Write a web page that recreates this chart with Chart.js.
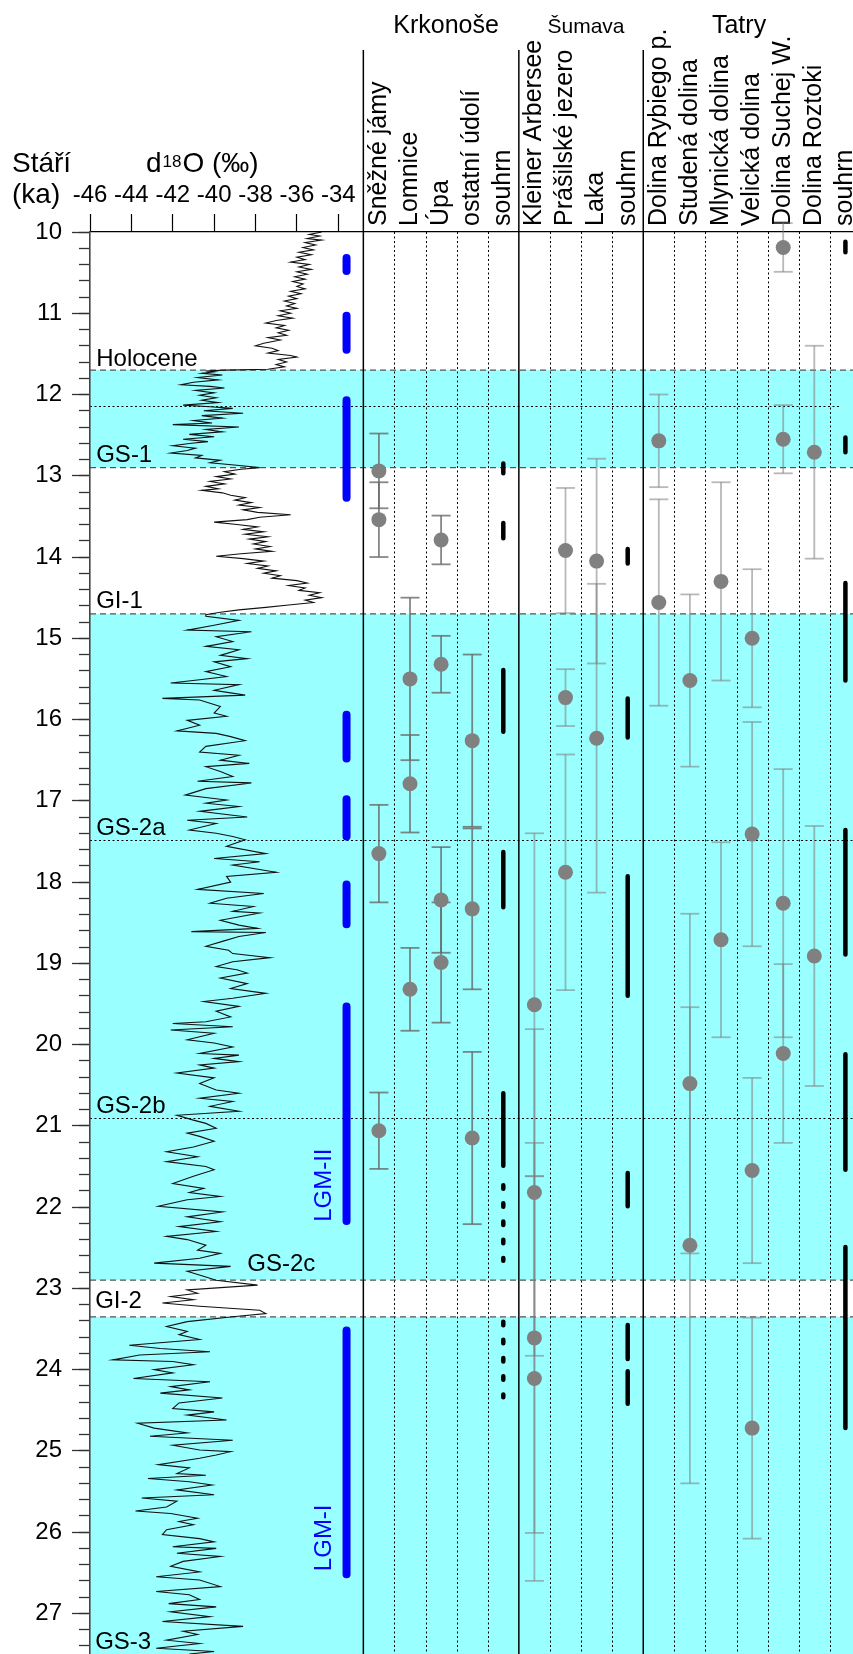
<!DOCTYPE html>
<html>
<head>
<meta charset="utf-8">
<script src="https://cdn.jsdelivr.net/npm/chart.js@4.4.1/dist/chart.umd.min.js"></script>
<style>
html,body{margin:0;padding:0;background:#fff;}
#wrap{width:853px;height:1654px;}
canvas{display:block;}
</style>
</head>
<body>
<div id="wrap"><canvas id="chart" width="853" height="1654"></canvas></div>
<script>
// ================= DATA =================
const columnNames = ['Sněžné jámy','Lomnice','Úpa','ostatní údolí','souhrn',
  'Kleiner Arbersee','Prášilské jezero','Laka','souhrn',
  'Dolina Rybiego p.','Studená dolina','Mlynická dolina','Velická dolina','Dolina Suchej W.','Dolina Roztoki','souhrn'];
const groupNames = ['Krkonoše','Šumava','Tatry'];
const groupSizes = [5, 4, 7];
const d18OTicks = [-46,-44,-42,-40,-38,-36,-34];
const ageTicks = [10,11,12,13,14,15,16,17,18,19,20,21,22,23,24,25,26,27];

// dated samples per site: [age ka, ± uncertainty ka]
const snezneJamy      = [[12.94,0.46],[13.54,0.46],[17.65,0.60],[21.06,0.47]];
const lomnice         = [[15.50,1.00],[16.79,0.60],[19.32,0.51]];
const upa             = [[13.79,0.30],[15.32,0.35],[18.22,0.65],[18.99,0.74]];
const ostatniUdoli    = [[16.26,1.06],[18.33,0.99],[21.15,1.06]];
const kleinerArbersee = [[19.51,2.11],[21.82,2.01],[23.61,2.40],[24.11,2.49]];
const prasilskeJezero = [[13.92,0.77],[15.73,0.35],[17.88,1.45]];
const laka            = [[14.05,1.26],[16.23,1.90]];
const dolinaRybiego   = [[12.57,0.57],[14.56,1.27]];
const studenaDolina   = [[15.52,1.06],[20.48,2.09],[22.47,2.93]];
const mlynickaDolina  = [[14.30,1.22],[18.71,1.20]];
const velickaDolina   = [[15.00,0.85],[17.41,1.38],[21.55,1.14],[24.72,1.36]];
const dolinaSuchej    = [[10.19,0.30],[12.55,0.42],[18.26,1.65],[20.11,1.10]];
const dolinaRoztoki   = [[12.71,1.31],[18.91,1.60]];

// summary (souhrn) intervals [from ka, to ka]
const krkonoseSouhrn       = [[12.85,12.97],[13.58,13.77],[15.39,16.15],[17.63,18.31],[20.60,21.49]];
const krkonoseSouhrnDotted = [[21.73,22.66],[23.41,24.34]];
const sumavaSouhrn         = [[13.90,14.08],[15.74,16.22],[17.93,19.40],[21.58,21.99],[23.45,23.87],[24.02,24.42]];
const tatrySouhrn          = [[10.12,10.25],[12.53,12.71],[14.32,15.52],[17.36,18.89],[20.12,21.54],[22.49,24.72]];

// LGM intervals (blue) [from ka, to ka]
const lgmIntervals = [[10.32,10.48],[11.03,11.45],[12.07,13.27],[15.94,16.48],[16.98,17.44],[18.03,18.52],[19.53,22.17],[23.52,26.52]];
const lgmNames = ['LGM-II','LGM-I'];

// Greenland stadials (cyan) and event boundaries [ka]
const stadialBands = [[11.7,12.9],[14.7,22.9],[23.35,27.5]];
const dashedBoundaries = [11.7,12.9,14.7,22.9,23.35];
const dottedBoundaries = [12.14,17.48,20.9];
const periodNames = ['Holocene','GS-1','GI-1','GS-2a','GS-2b','GS-2c','GI-2','GS-3'];

// NGRIP d18O record [age ka, d18O permil]
const curveHolocene = [[10.00,-34.8],[10.03,-35.4],[10.05,-34.9],[10.08,-35.5],[10.10,-34.8],[10.13,-35.6],[10.16,-35.1],[10.19,-35.7],[10.22,-35.2],[10.25,-35.9],[10.28,-35.3],[10.31,-36.0],[10.34,-35.6],[10.37,-36.3],[10.40,-35.4],[10.43,-35.9],[10.46,-35.3],[10.49,-36.0],[10.52,-35.5],[10.55,-36.1],[10.58,-35.6],[10.61,-36.2],[10.64,-35.7],[10.67,-36.0],[10.70,-35.6],[10.73,-36.3],[10.76,-35.8],[10.79,-36.4],[10.82,-36.0],[10.85,-36.6],[10.88,-36.1],[10.91,-36.5],[10.94,-36.0],[10.97,-36.8],[11.00,-36.3],[11.03,-36.9],[11.06,-36.2],[11.09,-37.0],[11.12,-37.5],[11.15,-36.6],[11.18,-37.0],[11.21,-36.4],[11.24,-36.9],[11.27,-36.5],[11.30,-37.4],[11.33,-36.8],[11.37,-37.6],[11.40,-38.0],[11.43,-37.2],[11.46,-36.9],[11.49,-37.4],[11.52,-36.3],[11.54,-36.0],[11.57,-36.9],[11.60,-36.5],[11.63,-37.0],[11.66,-36.6],[11.69,-37.4],[11.70,-39.5]];
const curveGS1 = [[11.71,-40.4],[11.72,-40.0],[11.74,-40.6],[11.76,-39.6],[11.79,-40.8],[11.82,-39.8],[11.85,-41.0],[11.88,-41.6],[11.90,-40.2],[11.92,-39.5],[11.95,-40.9],[11.98,-40.0],[12.01,-40.7],[12.04,-39.9],[12.07,-40.6],[12.10,-39.8],[12.13,-41.5],[12.15,-40.2],[12.17,-39.1],[12.20,-40.5],[12.23,-38.6],[12.26,-40.6],[12.29,-39.6],[12.32,-41.0],[12.35,-40.1],[12.37,-42.0],[12.40,-38.8],[12.43,-40.4],[12.46,-39.6],[12.49,-41.2],[12.52,-40.0],[12.55,-41.5],[12.58,-40.3],[12.60,-41.1],[12.63,-42.0],[12.66,-40.9],[12.69,-41.3],[12.72,-42.1],[12.75,-40.6],[12.78,-40.9],[12.81,-39.7],[12.84,-40.2],[12.87,-38.9],[12.90,-37.8],[12.92,-38.7]];
const curveGI1 = [[12.95,-39.5],[12.98,-39.0],[13.01,-39.9],[13.04,-39.2],[13.07,-40.2],[13.10,-39.5],[13.13,-40.4],[13.16,-39.8],[13.18,-40.6],[13.21,-39.6],[13.24,-39.2],[13.27,-38.5],[13.30,-39.0],[13.33,-38.2],[13.36,-38.8],[13.39,-37.8],[13.42,-38.6],[13.45,-37.9],[13.48,-36.3],[13.51,-37.8],[13.54,-38.4],[13.57,-40.0],[13.60,-38.9],[13.63,-37.9],[13.66,-38.6],[13.69,-37.6],[13.72,-38.5],[13.75,-37.4],[13.78,-38.3],[13.81,-37.5],[13.84,-38.1],[13.87,-37.3],[13.90,-38.0],[13.93,-37.2],[13.96,-38.7],[13.99,-39.9],[14.02,-38.6],[14.05,-37.6],[14.08,-38.4],[14.11,-37.4],[14.14,-37.9],[14.17,-37.0],[14.20,-37.6],[14.23,-36.8],[14.26,-37.2],[14.29,-36.0],[14.32,-35.5],[14.35,-36.4],[14.38,-35.6],[14.41,-35.9],[14.44,-34.9],[14.47,-35.4],[14.50,-34.8],[14.53,-35.6],[14.56,-35.2],[14.59,-36.4],[14.62,-37.5],[14.65,-38.8],[14.68,-39.7],[14.71,-40.4]];
const curveGS2a = [[14.73,-40.4],[14.78,-38.8],[14.84,-40.0],[14.90,-41.3],[14.92,-38.2],[14.98,-39.9],[15.04,-39.1],[15.10,-40.4],[15.14,-38.8],[15.21,-39.7],[15.25,-38.4],[15.29,-40.0],[15.35,-39.2],[15.41,-40.4],[15.47,-39.4],[15.51,-40.7],[15.55,-42.1],[15.57,-38.8],[15.64,-40.0],[15.70,-38.5],[15.74,-42.5],[15.76,-40.7],[15.84,-39.7],[15.92,-40.0],[15.96,-39.4],[16.01,-41.3],[16.07,-40.7],[16.14,-41.8],[16.17,-39.9],[16.21,-39.2],[16.26,-38.5],[16.33,-40.4],[16.40,-40.7],[16.44,-38.8],[16.50,-39.7],[16.54,-38.3],[16.58,-40.4],[16.64,-39.7],[16.70,-39.1],[16.76,-40.8],[16.78,-38.2],[16.85,-40.4],[16.93,-41.4],[16.99,-39.4],[17.03,-40.4],[17.07,-38.8],[17.13,-40.7],[17.20,-38.4],[17.24,-41.3],[17.28,-39.9],[17.36,-41.2],[17.40,-39.9],[17.44,-39.1],[17.48,-38.5],[17.56,-39.4],[17.65,-37.5],[17.71,-40.0],[17.75,-37.8],[17.79,-39.1],[17.88,-37.0],[17.93,-39.4],[18.00,-39.2],[18.09,-40.8],[18.14,-37.6],[18.20,-39.4],[18.26,-40.2],[18.30,-38.1],[18.36,-39.1],[18.38,-37.8],[18.47,-39.7],[18.53,-38.8],[18.57,-37.9],[18.61,-41.1],[18.62,-37.5],[18.67,-38.8],[18.73,-39.6],[18.79,-40.4],[18.84,-39.3],[18.88,-39.1],[18.93,-37.3],[18.98,-39.1],[19.04,-39.9],[19.08,-38.9],[19.12,-38.4],[19.18,-39.7],[19.25,-38.4],[19.31,-39.2],[19.37,-37.5],[19.43,-39.1],[19.47,-40.5],[19.53,-38.8],[19.59,-39.9],[19.66,-39.2],[19.72,-40.4],[19.74,-42.0],[19.78,-39.1],[19.82,-42.1],[19.86,-40.0],[19.94,-41.3],[19.98,-40.0]];
const curveGS2bc = [[20.03,-39.1],[20.11,-40.7],[20.13,-38.8],[20.17,-40.0],[20.21,-38.8],[20.25,-40.7],[20.29,-40.0],[20.35,-41.8],[20.41,-40.0],[20.48,-40.7],[20.56,-39.9],[20.60,-38.8],[20.66,-40.7],[20.70,-39.1],[20.76,-40.2],[20.82,-38.8],[20.87,-41.8],[20.93,-41.0],[20.97,-40.4],[21.03,-39.9],[21.09,-41.3],[21.13,-40.7],[21.19,-40.0],[21.26,-41.0],[21.32,-42.3],[21.38,-40.8],[21.44,-42.3],[21.50,-40.4],[21.54,-40.0],[21.62,-41.0],[21.71,-42.0],[21.77,-40.5],[21.82,-41.2],[21.87,-39.7],[21.91,-41.3],[21.99,-42.7],[22.06,-39.6],[22.12,-41.3],[22.18,-39.7],[22.24,-41.7],[22.30,-39.9],[22.36,-42.3],[22.40,-41.3],[22.47,-40.4],[22.53,-40.8],[22.57,-39.7],[22.63,-40.7],[22.69,-42.9],[22.73,-39.2],[22.79,-41.3],[22.86,-40.4],[22.90,-39.9],[22.96,-37.9],[23.02,-41.3],[23.06,-40.8],[23.10,-42.1],[23.14,-41.0],[23.18,-42.5],[23.22,-40.7],[23.27,-37.8],[23.31,-37.5],[23.35,-39.1],[23.41,-41.3],[23.47,-42.3],[23.53,-41.3],[23.57,-41.7],[23.63,-40.7],[23.70,-44.1],[23.74,-42.6],[23.78,-40.2],[23.82,-43.6],[23.88,-44.9],[23.90,-42.0],[23.94,-41.0],[24.00,-42.9],[24.04,-42.0],[24.11,-43.9],[24.15,-40.2],[24.21,-42.1],[24.25,-41.2],[24.29,-42.6],[24.35,-39.6],[24.41,-41.7],[24.48,-42.0],[24.52,-40.0],[24.56,-41.3],[24.62,-39.4],[24.66,-43.7],[24.72,-42.9],[24.78,-41.3],[24.82,-43.1],[24.87,-39.1],[24.93,-42.0],[24.99,-40.7]];
const curveGS3 = [[25.01,-39.2],[25.05,-39.9],[25.09,-40.7],[25.17,-42.7],[25.21,-41.2],[25.28,-41.8],[25.30,-40.4],[25.34,-43.2],[25.38,-41.2],[25.42,-40.1],[25.48,-41.8],[25.54,-40.0],[25.58,-43.5],[25.62,-41.8],[25.69,-42.3],[25.74,-43.8],[25.77,-42.1],[25.83,-40.8],[25.87,-41.7],[25.91,-41.0],[25.97,-42.3],[26.03,-42.5],[26.08,-40.7],[26.12,-40.0],[26.18,-42.0],[26.20,-39.9],[26.26,-41.8],[26.30,-39.7],[26.36,-41.5],[26.42,-42.1],[26.49,-40.7],[26.55,-42.8],[26.59,-40.7],[26.67,-39.7],[26.73,-42.8],[26.77,-41.2],[26.83,-40.7],[26.88,-42.2],[26.92,-39.9],[26.98,-42.1],[27.04,-40.2],[27.10,-42.5],[27.16,-38.6],[27.22,-41.5],[27.26,-40.8],[27.33,-42.3],[27.37,-40.7],[27.43,-42.8],[27.47,-40.0],[27.50,-41.2]];

// ================= LAYOUT / STYLE (not data) =================
const FONT = "'Liberation Sans', Arial, Helvetica, sans-serif";
const AGE_MIN = 10, AGE_MAX = 27.5;
const X_MIN = -46, X_MAX = -9.12;
const COL_MIN = -9.289, COL_MAX = 15.244;
const LGM_X = -33.6;
const LGM_LABEL_X = -34.65;
const lgmLabelAt = [21.73, 26.07];
const periodLabelAt = [[-45.7,11.65],[-45.7,12.83],[-45.7,14.63],[-45.7,17.42],[-45.7,20.84],[-38.4,22.79],[-45.75,23.24],[-45.75,27.44]];
const groupTitleAt = [2.16, 6.66, 11.58];
const groupTitleSize = [25, 21, 25];
const dottedBoundaryEnd = [14.8, null, null];
const CYAN = '#99FFFF';
const BLUE = '#0000FF';

Chart.defaults.font.family = FONT;
Chart.defaults.color = '#000';

const siteDates = [snezneJamy, lomnice, upa, ostatniUdoli, null,
  kleinerArbersee, prasilskeJezero, laka, null,
  dolinaRybiego, studenaDolina, mlynickaDolina, velickaDolina, dolinaSuchej, dolinaRoztoki, null];
const summaryCols = columnNames.map((n, i) => n === 'souhrn' ? i : -1).filter(i => i >= 0);
const summarySeries = [krkonoseSouhrn, sumavaSouhrn, tatrySouhrn];

// ================= DATASETS =================
const datasets = [];

const pts = [];
siteDates.forEach((dates, col) => { if (dates) dates.forEach(([a]) => pts.push({x: col, y: a})); });
datasets.push({type: 'scatter', data: pts, xAxisID: 'x2', yAxisID: 'y', order: 0,
  pointRadius: 7.5, pointBackgroundColor: '#808080', pointBorderWidth: 0, clip: false});

summarySeries.forEach((ranges, gi) => {
  const col = summaryCols[gi];
  ranges.forEach(([a, b]) => datasets.push({type: 'line', data: [{x: col, y: a}, {x: col, y: b}],
    xAxisID: 'x2', yAxisID: 'y', order: 1, borderColor: '#000', borderWidth: 4.5,
    borderCapStyle: 'round', pointRadius: 0, fill: false}));
});
krkonoseSouhrnDotted.forEach(([a, b]) => datasets.push({type: 'line', data: [{x: summaryCols[0], y: a}, {x: summaryCols[0], y: b}],
  xAxisID: 'x2', yAxisID: 'y', order: 1, borderColor: '#000', borderWidth: 4.5, borderDash: [3.5, 14.7],
  borderCapStyle: 'round', pointRadius: 0, fill: false}));

siteDates.forEach((dates, col) => {
  if (!dates) return;
  const c = col < 4 ? 'rgba(105,105,105,0.8)' : 'rgba(125,125,125,0.55)';
  dates.forEach(([a, e]) => datasets.push({type: 'line', data: [{x: col, y: a - e}, {x: col, y: a + e}],
    xAxisID: 'x2', yAxisID: 'y', order: 2, borderColor: c, borderWidth: 1.8,
    pointStyle: 'line', pointRadius: 9.5, pointBorderColor: c, pointBorderWidth: 1.8, fill: false, clip: false}));
});

lgmIntervals.forEach(([a, b]) => datasets.push({type: 'line', data: [{x: LGM_X, y: a}, {x: LGM_X, y: b}],
  xAxisID: 'x', yAxisID: 'y', order: 3, borderColor: BLUE, borderWidth: 8, borderCapStyle: 'round',
  pointRadius: 0, fill: false}));

const curve = [].concat(curveHolocene, curveGS1, curveGI1, curveGS2a, curveGS2bc, curveGS3).map(([a, d]) => ({x: d, y: a}));
datasets.push({type: 'line', data: curve, xAxisID: 'x', yAxisID: 'y', order: 4,
  borderColor: '#111', borderWidth: 1.1, pointRadius: 0, fill: false, tension: 0});

// ================= PLUGINS =================
function hline(ctx, x1, x2, y) { ctx.beginPath(); ctx.moveTo(x1, y); ctx.lineTo(x2, y); ctx.stroke(); }
function vline(ctx, x, y1, y2) { ctx.beginPath(); ctx.moveTo(x, y1); ctx.lineTo(x, y2); ctx.stroke(); }

const backgroundPlugin = {
  id: 'background',
  beforeDraw(chart) {
    const {ctx, chartArea: a, scales: {y, x2}} = chart;
    ctx.save();
    ctx.fillStyle = CYAN;
    stadialBands.forEach(([s, e]) => {
      const y1 = y.getPixelForValue(s), y2 = y.getPixelForValue(Math.min(e, AGE_MAX));
      ctx.fillRect(a.left, y1, a.right - a.left, y2 - y1);
    });
    let start = 0;
    const solid = [-0.5], dotted = [];
    groupSizes.forEach(n => {
      for (let i = 0; i < n - 1; i++) dotted.push(start + i + 0.5);
      start += n; solid.push(start - 0.5);
    });
    solid.pop();
    ctx.strokeStyle = '#000'; ctx.lineWidth = 1; ctx.setLineDash([2, 2.5]);
    dotted.forEach(c => vline(ctx, Math.round(x2.getPixelForValue(c)) + 0.5, a.top, a.bottom));
    dottedBoundaries.forEach((b, i) => {
      const yy = Math.round(y.getPixelForValue(b)) + 0.5;
      const end = dottedBoundaryEnd[i] == null ? a.right : x2.getPixelForValue(dottedBoundaryEnd[i]);
      hline(ctx, a.left, end, yy);
    });
    ctx.strokeStyle = '#555'; ctx.lineWidth = 1.3; ctx.setLineDash([6, 4]);
    dashedBoundaries.forEach(b => hline(ctx, a.left, a.right, y.getPixelForValue(b)));
    ctx.setLineDash([]); ctx.strokeStyle = '#000'; ctx.lineWidth = 1.5;
    solid.forEach(c => vline(ctx, x2.getPixelForValue(c), 50, a.bottom));
    ctx.restore();
  }
};

const textPlugin = {
  id: 'texts',
  afterDraw(chart) {
    const {ctx, scales: {x, x2, y}} = chart;
    ctx.save();
    ctx.fillStyle = '#000';
    ctx.textBaseline = 'alphabetic';
    ctx.textAlign = 'left';
    ctx.font = `28px ${FONT}`;
    ctx.fillText('Stáří', 12, 172);
    ctx.fillText('(ka)', 12, 203);
    let px = 146;
    ctx.fillText('d', px, 172); px += ctx.measureText('d').width + 1;
    ctx.font = `17px ${FONT}`;
    ctx.fillText('18', px, 167); px += ctx.measureText('18').width + 1;
    ctx.font = `28px ${FONT}`;
    ctx.fillText('O (‰)', px, 172);
    ctx.textAlign = 'center';
    groupNames.forEach((g, i) => {
      ctx.font = `${groupTitleSize[i]}px ${FONT}`;
      ctx.fillText(g, x2.getPixelForValue(groupTitleAt[i]), 33);
    });
    ctx.textAlign = 'left';
    ctx.font = `24px ${FONT}`;
    periodNames.forEach((n, i) => {
      const [d, a] = periodLabelAt[i];
      ctx.fillText(n, x.getPixelForValue(d), y.getPixelForValue(a));
    });
    ctx.fillStyle = BLUE;
    ctx.textAlign = 'center'; ctx.textBaseline = 'middle';
    lgmNames.forEach((n, i) => {
      ctx.save();
      ctx.translate(x.getPixelForValue(LGM_LABEL_X), y.getPixelForValue(lgmLabelAt[i]));
      ctx.rotate(-Math.PI / 2);
      ctx.fillText(n, 0, 0);
      ctx.restore();
    });
    ctx.restore();
  }
};

function zeroPad(s) { s.paddingLeft = 0; s.paddingRight = 0; s.paddingTop = 0; s.paddingBottom = 0; }

new Chart(document.getElementById('chart'), {
  type: 'line',
  data: {datasets},
  plugins: [backgroundPlugin, textPlugin],
  options: {
    responsive: false,
    animation: false,
    devicePixelRatio: 1,
    events: [],
    layout: {padding: 0, autoPadding: false},
    plugins: {legend: {display: false}, tooltip: {enabled: false}},
    scales: {
      x: {
        type: 'linear', position: 'top', min: X_MIN, max: X_MAX, weight: 0,
        afterBuildTicks: s => { s.ticks = d18OTicks.map(v => ({value: v})); },
        afterFit: s => { s.height = 232; zeroPad(s); },
        ticks: {font: {size: 24}, color: '#000', padding: 4, maxRotation: 0, autoSkip: false, includeBounds: false},
        grid: {drawOnChartArea: false, tickLength: 18, tickColor: '#000', tickWidth: 1.2},
        border: {color: '#000', width: 1.3}
      },
      x2: {
        type: 'linear', position: 'top', min: COL_MIN, max: COL_MAX, weight: -1,
        afterBuildTicks: s => { s.ticks = columnNames.map((n, i) => ({value: i})); },
        afterFit: s => { s.height = 0; zeroPad(s); },
        ticks: {font: {size: 25}, color: '#000', mirror: true, padding: -6, minRotation: 90, maxRotation: 90, autoSkip: false,
          includeBounds: false, callback: (v, i) => columnNames[i]},
        grid: {display: false},
        border: {display: false}
      },
      y: {
        type: 'linear', position: 'left', reverse: true, min: AGE_MIN, max: AGE_MAX,
        afterBuildTicks: s => { s.ticks = ageTicks.map(v => ({value: v})); },
        afterFit: s => { s.width = 90; zeroPad(s); },
        ticks: {font: {size: 24}, color: '#000', padding: 10, includeBounds: false},
        grid: {drawOnChartArea: false, tickLength: 18, tickColor: '#333', tickWidth: 1.3},
        border: {color: '#444', width: 1.6}
      },
      yMinor: {
        type: 'linear', axis: 'y', position: {x: X_MIN}, reverse: true, min: AGE_MIN, max: AGE_MAX,
        ticks: {stepSize: 0.2, display: false, includeBounds: false, maxTicksLimit: 1000},
        grid: {drawOnChartArea: false, tickLength: 11, tickColor: '#333', tickWidth: 1.3},
        border: {display: false}
      }
    }
  }
});
</script>
</body>
</html>
